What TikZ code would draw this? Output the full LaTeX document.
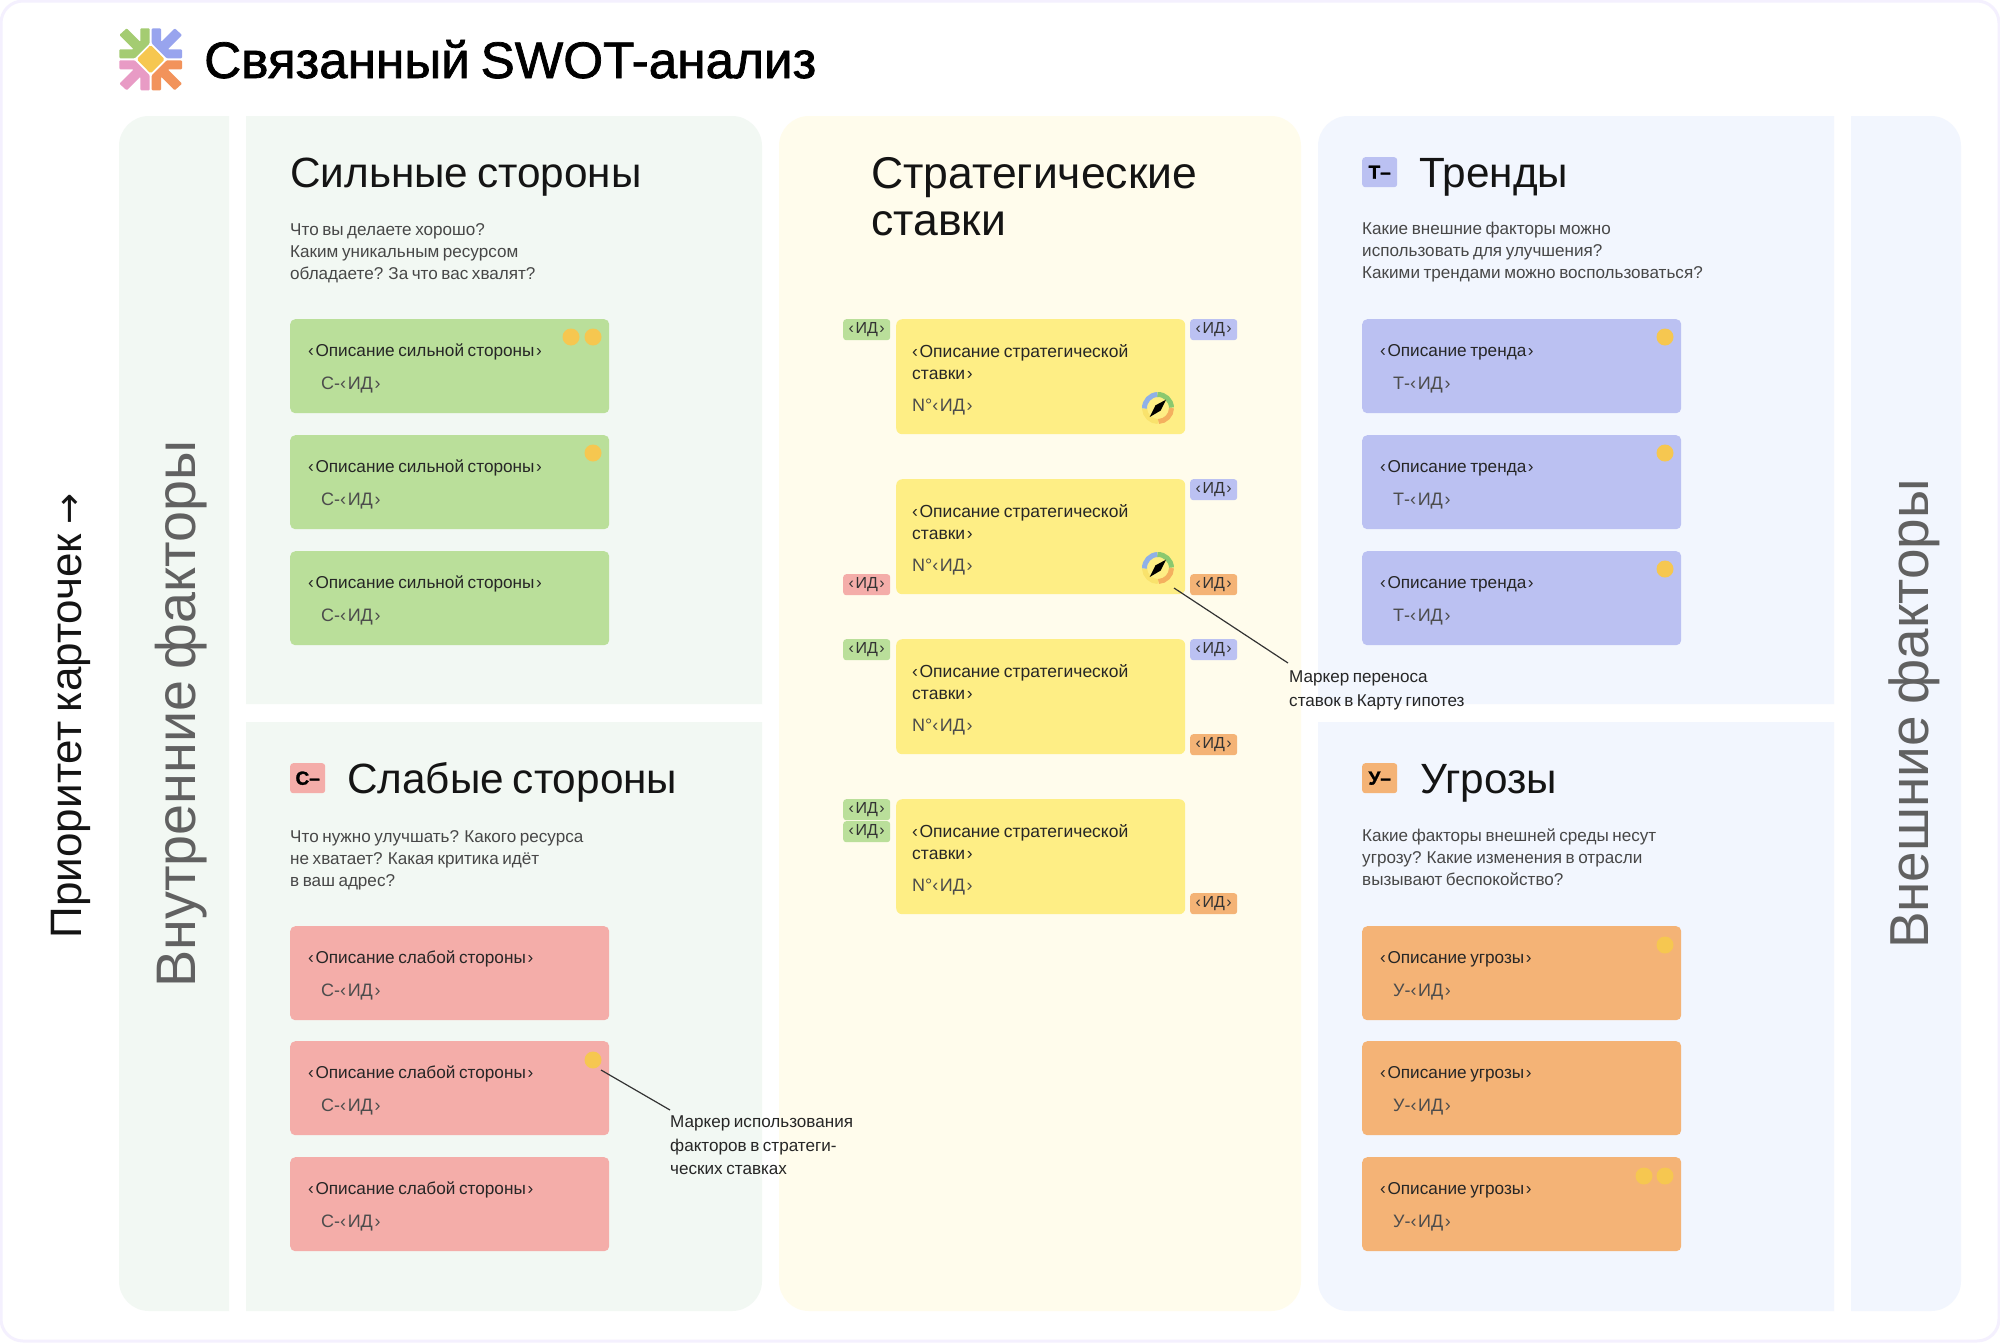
\documentclass[tikz,border=0pt]{standalone}
\usepackage{fontspec}
\setmainfont[WordSpace=0.75]{Liberation Sans}
\newfontfamily\titlefont[FakeBold=1.4,WordSpace=0.75]{Liberation Sans}
\newfontfamily\arrowfont{DejaVu Sans}
\newcommand{\fs}[2]{\fontsize{#1}{#2}\selectfont}
\newcommand{\lqm}{‹\kern1.6pt}
\newcommand{\rqm}{\kern1.6pt›}
\definecolor{pgreen}{HTML}{F2F8F3}
\definecolor{pyellow}{HTML}{FFFCEC}
\definecolor{pblue}{HTML}{F2F6FE}
\definecolor{cgreen}{HTML}{BADF9A}
\definecolor{cred}{HTML}{F4ADA9}
\definecolor{cblue}{HTML}{BBC1F2}
\definecolor{corange}{HTML}{F4B376}
\definecolor{cyellow}{HTML}{FEEE85}
\definecolor{dotc}{HTML}{F6C750}
\definecolor{framec}{HTML}{F4F0FE}
\definecolor{lgreen}{HTML}{A4CC72}
\definecolor{lblue}{HTML}{98A4EE}
\definecolor{lpink}{HTML}{E89BC5}
\definecolor{lorange}{HTML}{F2935B}
\definecolor{rblue}{HTML}{8FB0E8}
\definecolor{rgreen}{HTML}{8BC96F}
\definecolor{rorange}{HTML}{F4B05F}
\definecolor{ryellow}{HTML}{F9E26C}
\tikzset{
  x=1pt,y=-1pt,
  cardbox/.style={anchor=north west,minimum width=319pt,minimum height=94pt,inner sep=0pt,rounded corners=5pt},
  stakebox/.style={anchor=north west,fill=cyellow,minimum width=289pt,minimum height=115pt,inner sep=0pt,rounded corners=6pt},
  tagbox/.style={anchor=north west,minimum width=47pt,minimum height=21pt,inner sep=0pt,rounded corners=3pt,text=black!80,font=\fs{16}{16}},
  badgebox/.style={anchor=north west,minimum width=35pt,minimum height=30pt,inner sep=0pt,rounded corners=3pt,text=black,font=\titlefont\fs{19}{19}\bfseries},
  cardmain/.style={anchor=west,inner sep=0pt,text=black!85,font=\fs{17.2}{17}},
  cardid/.style={anchor=west,inner sep=0pt,text=black!70,font=\fs{18}{17}},
  stakemain/.style={anchor=north west,inner sep=0pt,align=left,text=black!85,font=\fs{17.5}{22}},
  head/.style={anchor=base west,inner sep=0pt,text=black!92,font=\fs{42.3}{47}},
  desc/.style={anchor=north west,inner sep=0pt,align=left,text=black!72,font=\fs{17.1}{22}},
  note/.style={anchor=north west,inner sep=0pt,align=left,text=black!85,font=\fs{17.1}{23.3}},
  dotmark/.style={circle,fill=dotc,minimum size=17pt,inner sep=0pt},
  leader/.style={draw=black!80,line width=1.2pt},
  sidetext/.style={rotate=90,anchor=base,inner sep=0pt},
}
\newcommand{\factcard}[6]{%
  \node[cardbox,fill=#4] (#1) at (#2,#3) {};
  \node[cardmain] (#1t) at ([shift={(18pt,-33pt)}]#1.north west) {#5};
  \node[cardid] (#1i) at ([shift={(31pt,-66pt)}]#1.north west) {#6};
}
\newcommand{\stake}[2]{%
  \node[stakebox] (#1) at (896,#2) {};
  \node[stakemain] (#1t) at ([shift={(16pt,-25pt)}]#1.north west) {\lqm Описание стратегической\\ставки\rqm};
  \node[cardid] (#1i) at ([shift={(16pt,-88pt)}]#1.north west) {N°\lqm ИД\rqm};
}
\newcommand{\compassmark}[2]{%
  \coordinate (#1) at #2;
  \draw[line width=5pt,color=ryellow] ([shift={(-90:13.5pt)}]#1) arc[start angle=-90,end angle=-178,radius=13.5pt];
  \draw[line width=5pt,color=rblue] ([shift={(182:13.5pt)}]#1) arc[start angle=182,end angle=92,radius=13.5pt];
  \draw[line width=5pt,color=rgreen] ([shift={(92:13.5pt)}]#1) arc[start angle=92,end angle=2,radius=13.5pt];
  \draw[line width=5pt,color=rorange] ([shift={(0:13.5pt)}]#1) arc[start angle=0,end angle=-88,radius=13.5pt];
  \fill[black] ([shift={(-8.3pt,-9pt)}]#1) -- ([shift={(-2.6pt,2.6pt)}]#1) -- ([shift={(8pt,8.3pt)}]#1) -- ([shift={(2.6pt,-2.6pt)}]#1) -- cycle;
}
\newcommand{\logoarm}[3]{%
  \begin{scope}[shift={(150.7,59.3)},xscale=#1,yscale=#2,x=0.3333pt,y=-0.3333pt]
    \fill[#3,rounded corners=1pt] (-94,-73) -- (-72,-93) -- (-31,-52) -- (-31,-93) -- (-3,-93) -- (-3,-48) -- (-48,-3) -- (-94,-3) -- (-94,-30) -- (-51,-30) -- cycle;
  \end{scope}
}
\begin{document}
\begin{tikzpicture}
\useasboundingbox (0,0) rectangle (2000,1342);
\fill[white] (0,0) rectangle (2000,1342);
\draw[framec,line width=3pt,rounded corners=22pt] (1,1) rectangle (1999,1341);
% panels
\fill[pgreen] (229,116) [rounded corners=30pt] -- (119,116) -- (119,1311) [sharp corners] -- (229,1311) -- cycle;
\fill[pgreen] (246,116) [rounded corners=30pt] -- (762,116) [sharp corners] -- (762,704) -- (246,704) -- cycle;
\fill[pgreen] (246,722) -- (762,722) [rounded corners=30pt] -- (762,1311) [sharp corners] -- (246,1311) -- cycle;
\fill[pyellow,rounded corners=30pt] (779,116) rectangle (1301,1311);
\fill[pblue] (1834,116) [rounded corners=30pt] -- (1318,116) [sharp corners] -- (1318,704) -- (1834,704) -- cycle;
\fill[pblue] (1834,722) -- (1318,722) [rounded corners=30pt] -- (1318,1311) [sharp corners] -- (1834,1311) -- cycle;
\fill[pblue] (1851,116) [rounded corners=30pt] -- (1961,116) -- (1961,1311) [sharp corners] -- (1851,1311) -- cycle;
% logo
\logoarm{1}{1}{lgreen}
\logoarm{-1}{1}{lblue}
\logoarm{1}{-1}{lpink}
\logoarm{-1}{-1}{lorange}
\fill[dotc,rounded corners=1.5pt] (150.7,45) -- (164.7,59.3) -- (150.7,73.5) -- (136.7,59.3) -- cycle;
\node[anchor=base west,inner sep=0pt,text=black,font=\titlefont\fs{51.3}{51}] (title) at (204,78) {Связанный SWOT-анализ};
% side
\node[sidetext,text=black!92,font=\fs{44}{44}] (prio) at (81,716) {Приоритет карточек {\arrowfont\fs{37}{44}→}};
\node[sidetext,text=black!62,font=\fs{55.7}{56}] (inner) at (195,714) {Внутренние факторы};
\node[sidetext,text=black!62,font=\fs{54.9}{56}] (outer) at (1928,714) {Внешние факторы};
% strong
\node[head] (hs) at (290,187) {Сильные стороны};
\node[desc] (ds) at (290,223.5) {Что вы делаете хорошо?\\Каким уникальным ресурсом\\обладаете? За что вас хвалят?};
\factcard{s1}{290}{319}{cgreen}{\lqm Описание сильной стороны\rqm}{С-\lqm ИД\rqm}
\factcard{s2}{290}{435}{cgreen}{\lqm Описание сильной стороны\rqm}{С-\lqm ИД\rqm}
\factcard{s3}{290}{551}{cgreen}{\lqm Описание сильной стороны\rqm}{С-\lqm ИД\rqm}
\node[dotmark] (ds1a) at (571,337) {};
\node[dotmark] (ds1b) at (593,337) {};
\node[dotmark] (ds2) at (593,453) {};
% weak
\node[badgebox,fill=cred] (bw) at (290,763) {С–};
\node[head] (hw) at (347,793) {Слабые стороны};
\node[desc] (dw) at (290,830) {Что нужно улучшать? Какого ресурса\\не хватает? Какая критика идёт\\в ваш адрес?};
\factcard{w1}{290}{926}{cred}{\lqm Описание слабой стороны\rqm}{С-\lqm ИД\rqm}
\factcard{w2}{290}{1041}{cred}{\lqm Описание слабой стороны\rqm}{С-\lqm ИД\rqm}
\factcard{w3}{290}{1157}{cred}{\lqm Описание слабой стороны\rqm}{С-\lqm ИД\rqm}
\node[dotmark] (dw2) at (593,1060) {};
% strategy
\node[head,anchor=north west,align=left,font=\fs{44.5}{47}] (hm) at (871,157) {Стратегические\\ставки};
\stake{k1}{319}
\stake{k2}{479}
\stake{k3}{639}
\stake{k4}{799}
\compassmark{cm1}{(1158,408)}
\compassmark{cm2}{(1158,568)}
\node[tagbox,fill=cgreen] (a1) at (843,319) {\lqm ИД\rqm};
\node[tagbox,fill=cblue] (a2) at (1190,319) {\lqm ИД\rqm};
\node[tagbox,fill=cblue] (b1) at (1190,479) {\lqm ИД\rqm};
\node[tagbox,fill=cred] (b2) at (843,574) {\lqm ИД\rqm};
\node[tagbox,fill=corange] (b3) at (1190,574) {\lqm ИД\rqm};
\node[tagbox,fill=cgreen] (c1) at (843,639) {\lqm ИД\rqm};
\node[tagbox,fill=cblue] (c2) at (1190,639) {\lqm ИД\rqm};
\node[tagbox,fill=corange] (c3) at (1190,734) {\lqm ИД\rqm};
\node[tagbox,fill=cgreen] (e1) at (843,799) {\lqm ИД\rqm};
\node[tagbox,fill=cgreen] (e2) at (843,821) {\lqm ИД\rqm};
\node[tagbox,fill=corange] (e3) at (1190,893) {\lqm ИД\rqm};
% trends
\node[badgebox,fill=cblue] (bt) at (1362,157) {Т–};
\node[head] (ht) at (1419,187) {Тренды};
\node[desc] (dt) at (1362,222) {Какие внешние факторы можно\\использовать для улучшения?\\Какими трендами можно воспользоваться?};
\factcard{t1}{1362}{319}{cblue}{\lqm Описание тренда\rqm}{Т-\lqm ИД\rqm}
\factcard{t2}{1362}{435}{cblue}{\lqm Описание тренда\rqm}{Т-\lqm ИД\rqm}
\factcard{t3}{1362}{551}{cblue}{\lqm Описание тренда\rqm}{Т-\lqm ИД\rqm}
\node[dotmark] (dt1) at (1665,337) {};
\node[dotmark] (dt2) at (1665,453) {};
\node[dotmark] (dt3) at (1665,569) {};
% threats
\node[badgebox,fill=corange] (bu) at (1362,763) {У–};
\node[head] (hu) at (1420,793) {Угрозы};
\node[desc] (du) at (1362,829) {Какие факторы внешней среды несут\\угрозу? Какие изменения в отрасли\\вызывают беспокойство?};
\factcard{u1}{1362}{926}{corange}{\lqm Описание угрозы\rqm}{У-\lqm ИД\rqm}
\factcard{u2}{1362}{1041}{corange}{\lqm Описание угрозы\rqm}{У-\lqm ИД\rqm}
\factcard{u3}{1362}{1157}{corange}{\lqm Описание угрозы\rqm}{У-\lqm ИД\rqm}
\node[dotmark] (du1) at (1665,945) {};
\node[dotmark] (du3a) at (1644,1176) {};
\node[dotmark] (du3b) at (1665,1176) {};
% notes
\node[note] (n1) at (1289,671) {Маркер переноса\\ставок в Карту гипотез};
\coordinate (n1s) at (1174,588);
\coordinate (n1e) at (1288,663);
\draw[leader] (n1s) -- (n1e);
\node[note] (n2) at (670,1116) {Маркер использования\\факторов в стратеги-\\ческих ставках};
\coordinate (n2s) at (601,1070);
\coordinate (n2e) at (670,1110);
\draw[leader] (n2s) -- (n2e);
\end{tikzpicture}
\end{document}
